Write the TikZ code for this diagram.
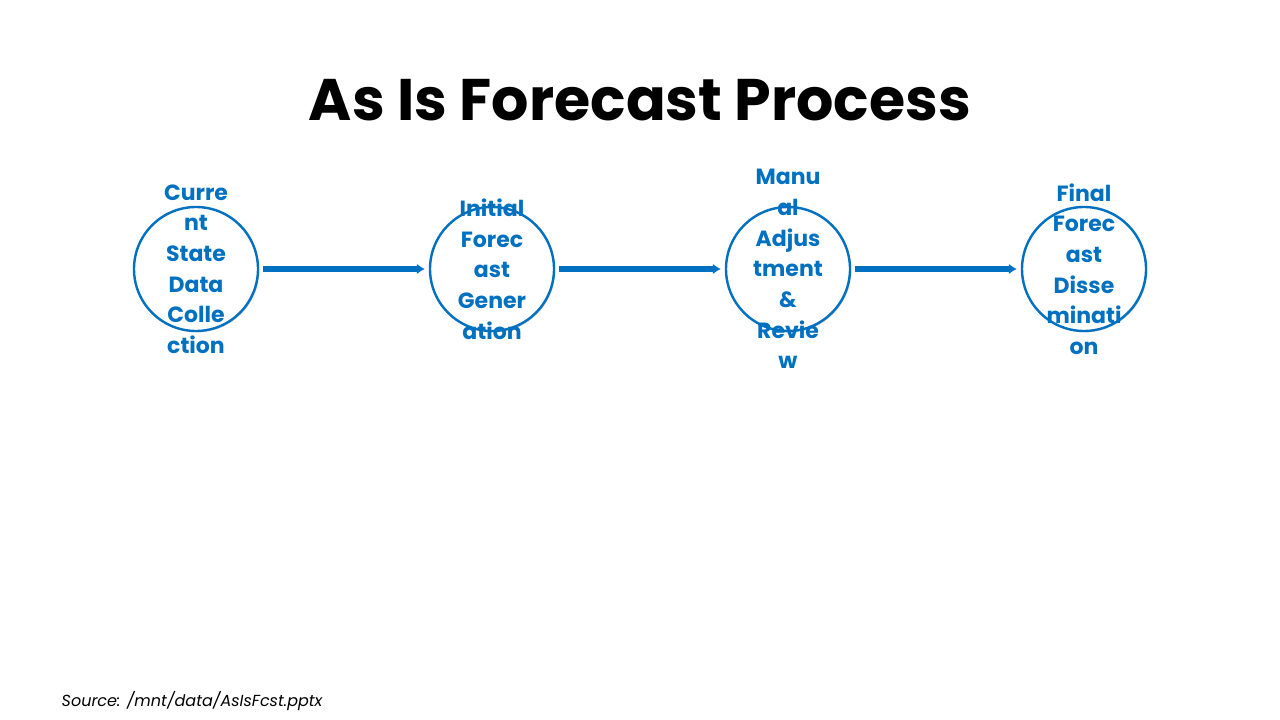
\documentclass[tikz,border=0pt]{standalone}
\usepackage{fontspec}
\setmainfont{Poppins}
\usetikzlibrary{shadows,arrows.meta}
\definecolor{cblue}{HTML}{0070C0}
\begin{document}
\begin{tikzpicture}[x=0.75pt,y=-0.75pt,
  stage/.style={circle,draw=cblue,line width=1.8pt,fill=white,minimum size=93pt,inner sep=0pt,
    drop shadow={shadow xshift=1pt,shadow yshift=-1pt,opacity=0.3}},
  lbl/.style={text=cblue,font=\bfseries\fontsize{16.5}{23}\selectfont,align=center},
  flow/.style={draw=cblue,line width=3.8pt,-{Latex[length=6pt,width=8pt]},shorten >=3pt,shorten <=3pt}]
\useasboundingbox (0,0) rectangle (1280,720);
\node[font=\bfseries\fontsize{44}{50}\selectfont] (title) at (640,100) {As Is Forecast Process};
\foreach \n/\x in {a/196,b/492,c/788,d/1084} \node[stage] (\n) at (\x,269) {};
\node[lbl] (ta) at (a) {Curre\\nt\\State\\Data\\Colle\\ction};
\node[lbl] (tb) at (b) {Initial\\Forec\\ast\\Gener\\ation};
\node[lbl] (tc) at (c) {Manu\\al\\Adjus\\tment\\\&\\Revie\\w};
\node[lbl] (td) at (d) {Final\\Forec\\ast\\Disse\\minati\\on};
\draw[flow] (a) -- (b);
\draw[flow] (b) -- (c);
\draw[flow] (c) -- (d);
\node[anchor=west,font=\itshape\fontsize{12}{14}\selectfont] (src) at (57,701) {Source: /mnt/data/AsIsFcst.pptx};
\end{tikzpicture}
\end{document}
